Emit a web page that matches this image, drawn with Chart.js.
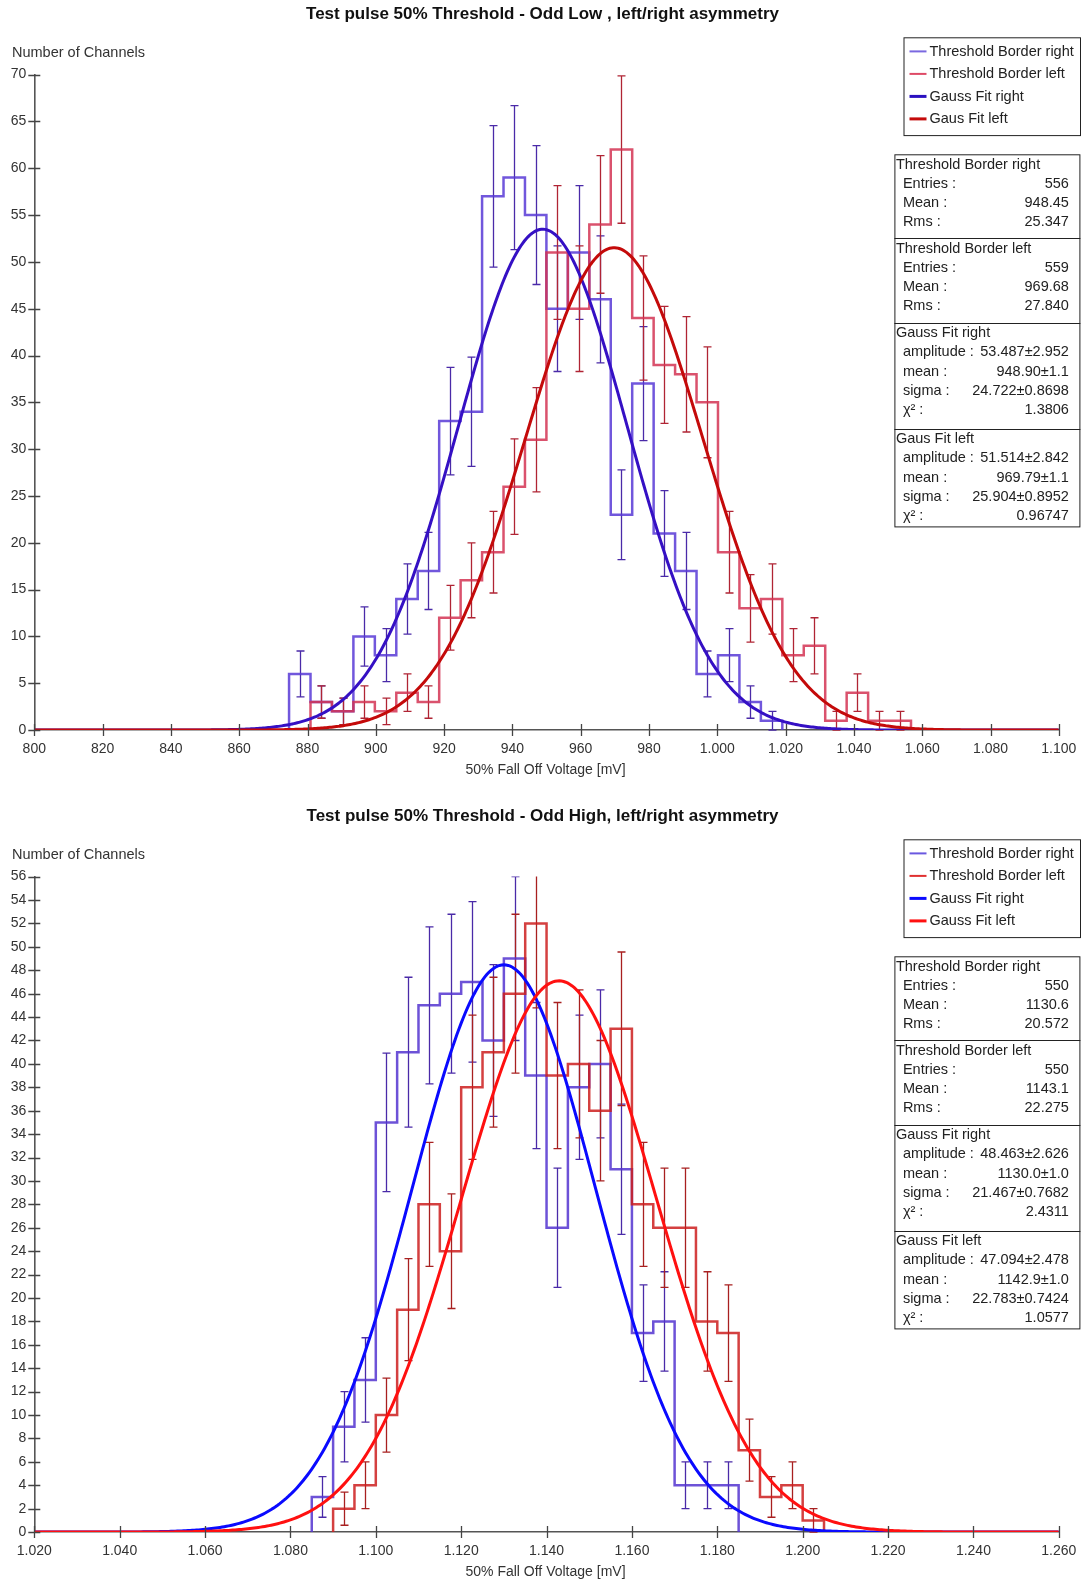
<!DOCTYPE html>
<html>
<head>
<meta charset="utf-8">
<title>Test pulse 50% Threshold - left/right asymmetry</title>
<script src="https://cdn.jsdelivr.net/npm/chart.js@4.4.1/dist/chart.umd.min.js"></script>
<style>
  html, body { margin: 0; padding: 0; background: #fff; overflow: hidden; }
  .panel { position: absolute; left: 0; width: 1083px; height: 802px; }
  #lowPanel { top: 0; }
  #highPanel { top: 802px; }
</style>
</head>
<body>
<div class="panel" id="lowPanel"><canvas id="lowChart" width="1083" height="802"></canvas></div>
<div class="panel" id="highPanel"><canvas id="highChart" width="1083" height="802"></canvas></div>
<script>
// ---- Odd Low ----
// histogram bins: first lower edge and width in mV
const lowBinStart = 874.6;
const lowBinWidth = 6.28;
const lowRightCounts = [6, 3, 2, 10, 8, 14, 17, 33, 34, 57, 59, 55, 45, 51, 46, 23, 37, 21, 17, 6, 8, 3, 1];
const lowLeftCounts = [0, 3, 2, 3, 2, 4, 3, 12, 16, 19, 26, 31, 51, 45, 54, 62, 44, 39, 38, 35, 19, 13, 14, 8, 9, 1, 4, 1, 1];
// gauss fit parameters: amplitude, mean, sigma
const lowFitRight = [53.487, 948.90, 24.722];
const lowFitLeft = [51.514, 969.79, 25.904];
const lowStatsRight = [['Entries :', '556'], ['Mean :', '948.45'], ['Rms :', '25.347']];
const lowStatsLeft = [['Entries :', '559'], ['Mean :', '969.68'], ['Rms :', '27.840']];
const lowFitRightText = [['amplitude :', '53.487±2.952'], ['mean :', '948.90±1.1'], ['sigma :', '24.722±0.8698'], ['χ² :', '1.3806']];
const lowFitLeftText = [['amplitude :', '51.514±2.842'], ['mean :', '969.79±1.1'], ['sigma :', '25.904±0.8952'], ['χ² :', '0.96747']];

// ---- Odd High ----
const highBinStart = 1085;
const highBinWidth = 5;
const highRightCounts = [3, 9, 13, 35, 41, 45, 46, 47, 42, 49, 39, 26, 38, 40, 31, 17, 18, 4, 4, 4];
const highLeftCounts = [0, 2, 4, 10, 19, 28, 24, 38, 41, 46, 52, 39, 40, 36, 43, 28, 26, 26, 18, 17, 7, 3, 4, 1];
const highFitRight = [48.463, 1130.0, 21.467];
const highFitLeft = [47.094, 1142.9, 22.783];
const highStatsRight = [['Entries :', '550'], ['Mean :', '1130.6'], ['Rms :', '20.572']];
const highStatsLeft = [['Entries :', '550'], ['Mean :', '1143.1'], ['Rms :', '22.275']];
const highFitRightText = [['amplitude :', '48.463±2.626'], ['mean :', '1130.0±1.0'], ['sigma :', '21.467±0.7682'], ['χ² :', '2.4311']];
const highFitLeftText = [['amplitude :', '47.094±2.478'], ['mean :', '1142.9±1.0'], ['sigma :', '22.783±0.7424'], ['χ² :', '1.0577']];

const FONT = "'Liberation Sans', Arial, sans-serif";
Chart.defaults.font.family = FONT;
Chart.defaults.font.size = 14;
Chart.defaults.color = '#333';
Chart.defaults.animation = false;

// axis labels use a dot as thousands separator (1.000, 1.020 ...)
function formatMv(v) {
    if (v >= 1000) return Math.floor(v / 1000) + '.' + String(Math.round(v % 1000)).padStart(3, '0');
    return String(v);
}

// outline of a histogram: each point carries the count of the bin ending there
function histPoints(start, width, counts) {
    const first = counts.findIndex(c => c > 0);
    const pts = [{ x: start + first * width, y: 0 }];
    for (let i = first; i < counts.length; i++) {
        pts.push({ x: start + i * width, y: counts[i] });
        pts.push({ x: start + (i + 1) * width, y: counts[i] });
    }
    pts.push({ x: start + counts.length * width, y: 0 });
    return pts;
}

function gaussPoints(fit, xMin, xMax) {
    const [amp, mean, sigma] = fit;
    const pts = [];
    for (let x = xMin; x <= xMax; x += 0.5) {
        const t = (x - mean) / sigma;
        pts.push({ x: x, y: amp * Math.exp(-0.5 * t * t) });
    }
    return pts;
}

function drawErrorBars(chart, start, width, counts, color) {
    const xs = chart.scales.x, ys = chart.scales.y, ctx = chart.ctx, a = chart.chartArea;
    ctx.save();
    ctx.beginPath();
    ctx.rect(a.left, a.top, a.right - a.left, a.bottom - a.top + 2);
    ctx.clip();
    ctx.strokeStyle = color;
    ctx.lineWidth = 1.3;
    counts.forEach((n, i) => {
        if (!n) return;
        const e = Math.sqrt(n);
        const px = Math.round(xs.getPixelForValue(start + (i + 0.5) * width)) + 0.5;
        const top = ys.getPixelForValue(n + e);
        const bot = ys.getPixelForValue(Math.max(n - e, 0));
        ctx.beginPath();
        ctx.moveTo(px, top); ctx.lineTo(px, bot);
        ctx.moveTo(px - 4, top); ctx.lineTo(px + 4, top);
        ctx.moveTo(px - 4, bot); ctx.lineTo(px + 4, bot);
        ctx.stroke();
    });
    ctx.restore();
}

function drawLegend(ctx, items) {
    const x = 903.5, y = 37.3, w = 176.5, h = 97.8;
    ctx.save();
    ctx.fillStyle = '#fff';
    ctx.fillRect(x, y, w, h);
    ctx.strokeStyle = '#222';
    ctx.lineWidth = 1;
    ctx.strokeRect(x + 0.5, y + 0.5, w, h);
    ctx.font = '14.5px ' + FONT;
    ctx.textBaseline = 'middle';
    ctx.textAlign = 'left';
    items.forEach((it, i) => {
        const cy = y + 14.1 + i * 22.5;
        ctx.strokeStyle = it.color;
        ctx.lineWidth = it.width;
        ctx.beginPath();
        ctx.moveTo(x + 6, cy); ctx.lineTo(x + 23, cy);
        ctx.stroke();
        ctx.fillStyle = '#222';
        ctx.fillText(it.label, x + 26, cy + 0.5);
    });
    ctx.restore();
}

function drawStats(ctx, sections) {
    const x = 894.4, right = 1080.4, top = 154.3;
    const heights = [83.7, 84.7, 105.9, 97.8];
    ctx.save();
    ctx.font = '14.5px ' + FONT;
    ctx.textBaseline = 'middle';
    let sy = top;
    const total = heights.reduce((a, b) => a + b, 0);
    ctx.fillStyle = '#fff';
    ctx.fillRect(x, top, right - x, total);
    ctx.strokeStyle = '#222';
    ctx.lineWidth = 1;
    ctx.strokeRect(x + 0.5, top + 0.5, right - x - 1, total);
    sections.forEach((sec, k) => {
        if (k > 0) {
            ctx.beginPath();
            ctx.moveTo(x, Math.round(sy) + 0.5); ctx.lineTo(right, Math.round(sy) + 0.5);
            ctx.stroke();
        }
        ctx.fillStyle = '#222';
        ctx.textAlign = 'left';
        ctx.fillText(sec.title, x + 1.5, sy + 10.5);
        sec.rows.forEach((r, i) => {
            const cy = sy + 10.5 + (i + 1) * 19.2;
            ctx.textAlign = 'left';
            ctx.fillText(r[0], x + 8.5, cy);
            ctx.textAlign = 'right';
            ctx.fillText(r[1], right - 11.5, cy);
        });
        sy += heights[k];
    });
    ctx.restore();
}

function makeChart(canvasId, cfg) {
    const xMin = cfg.xMin, xMax = cfg.xMax;
    const decor = {
        id: 'histDecor',
        beforeDatasetsDraw(chart) {
            drawErrorBars(chart, cfg.binStart, cfg.binWidth, cfg.rightCounts, cfg.colors.rightBar);
            drawErrorBars(chart, cfg.binStart, cfg.binWidth, cfg.leftCounts, cfg.colors.leftBar);
        },
        afterDraw(chart) {
            const ctx = chart.ctx, a = chart.chartArea;
            const xs = chart.scales.x, ys = chart.scales.y;
            ctx.save();
            // tick marks crossing the axes
            ctx.strokeStyle = '#444';
            ctx.lineWidth = 1.3;
            ctx.beginPath();
            ys.ticks.forEach(t => {
                const py = Math.round(ys.getPixelForValue(t.value)) + 0.5;
                ctx.moveTo(a.left - 6, py); ctx.lineTo(a.left + 6, py);
            });
            xs.ticks.forEach(t => {
                const px = Math.round(xs.getPixelForValue(t.value)) + 0.5;
                ctx.moveTo(px, a.bottom - 6); ctx.lineTo(px, a.bottom + 6);
            });
            ctx.stroke();
            // titles
            ctx.fillStyle = '#111';
            ctx.font = 'bold 17px ' + FONT;
            ctx.textAlign = 'center';
            ctx.textBaseline = 'middle';
            ctx.fillText(cfg.title, 542.5, 14.5);
            ctx.font = '14.5px ' + FONT;
            ctx.fillStyle = '#333';
            ctx.textAlign = 'left';
            ctx.fillText('Number of Channels', 12, 53);
            ctx.font = '14px ' + FONT;
            ctx.textAlign = 'center';
            ctx.fillText('50% Fall Off Voltage [mV]', 545.5, 770.5);
            ctx.restore();

            drawLegend(ctx, cfg.legend);
            drawStats(ctx, [
                { title: 'Threshold Border right', rows: cfg.statsRight },
                { title: 'Threshold Border left', rows: cfg.statsLeft },
                { title: cfg.fitNames[0], rows: cfg.fitRightText },
                { title: cfg.fitNames[1], rows: cfg.fitLeftText }
            ]);
        }
    };

    return new Chart(document.getElementById(canvasId), {
        type: 'line',
        data: {
            datasets: [
                {
                    label: 'Threshold Border right',
                    data: histPoints(cfg.binStart, cfg.binWidth, cfg.rightCounts),
                    borderColor: cfg.colors.rightHist,
                    borderWidth: 2.5,
                    pointRadius: 0,
                    order: 3
                },
                {
                    label: 'Threshold Border left',
                    data: histPoints(cfg.binStart, cfg.binWidth, cfg.leftCounts),
                    borderColor: cfg.colors.leftHist,
                    borderWidth: 2.5,
                    pointRadius: 0,
                    order: 2
                },
                {
                    label: cfg.fitNames[0],
                    data: gaussPoints(cfg.fitRight, xMin, xMax),
                    borderColor: cfg.colors.rightFit,
                    borderWidth: 3,
                    pointRadius: 0,
                    order: 1
                },
                {
                    label: cfg.fitNames[1],
                    data: gaussPoints(cfg.fitLeft, xMin, xMax),
                    borderColor: cfg.colors.leftFit,
                    borderWidth: 3,
                    pointRadius: 0,
                    order: 0
                }
            ]
        },
        options: {
            responsive: false,
            devicePixelRatio: 1,
            parsing: false,
            layout: { padding: { left: 0, right: 24.2, top: 74.6, bottom: 0 } },
            plugins: {
                legend: { display: false },
                title: { display: false },
                tooltip: { enabled: false }
            },
            scales: {
                x: {
                    type: 'linear',
                    min: xMin,
                    max: xMax,
                    grid: { display: false, drawTicks: false },
                    border: { color: '#555', width: 1.6 },
                    ticks: {
                        stepSize: 20,
                        autoSkip: false,
                        maxRotation: 0,
                        padding: 11,
                        color: '#333',
                        callback: v => formatMv(v)
                    },
                    afterFit: s => {
                        s.height = 802 - 730.1;
                        s.paddingLeft = 0;
                        s.paddingRight = 0;
                    }
                },
                y: {
                    min: 0,
                    max: cfg.yMax,
                    grid: { display: false, drawTicks: false },
                    border: { color: '#555', width: 1.6 },
                    ticks: { stepSize: cfg.yStep, padding: 8, color: '#333' },
                    afterFit: s => { s.width = 34.3; }
                }
            }
        },
        plugins: [decor]
    });
}

makeChart('lowChart', {
    title: 'Test pulse 50% Threshold - Odd Low , left/right asymmetry',
    xMin: 800, xMax: 1100, yMax: 70, yStep: 5,
    binStart: lowBinStart, binWidth: lowBinWidth,
    rightCounts: lowRightCounts, leftCounts: lowLeftCounts,
    fitRight: lowFitRight, fitLeft: lowFitLeft,
    fitNames: ['Gauss Fit right', 'Gaus Fit left'],
    statsRight: lowStatsRight, statsLeft: lowStatsLeft,
    fitRightText: lowFitRightText, fitLeftText: lowFitLeftText,
    colors: {
        rightHist: 'rgba(88, 58, 214, 0.85)',
        leftHist: 'rgba(212, 52, 84, 0.85)',
        rightFit: '#3510c4',
        leftFit: '#c40a0a',
        rightBar: '#4a2aa8',
        leftBar: '#b02434'
    },
    legend: [
        { label: 'Threshold Border right', color: '#7a68e0', width: 2 },
        { label: 'Threshold Border left', color: '#de4a66', width: 2 },
        { label: 'Gauss Fit right', color: '#2a10c0', width: 3 },
        { label: 'Gaus Fit left', color: '#c40a0a', width: 3 }
    ]
});

makeChart('highChart', {
    title: 'Test pulse 50% Threshold - Odd High, left/right asymmetry',
    xMin: 1020, xMax: 1260, yMax: 56, yStep: 2,
    binStart: highBinStart, binWidth: highBinWidth,
    rightCounts: highRightCounts, leftCounts: highLeftCounts,
    fitRight: highFitRight, fitLeft: highFitLeft,
    fitNames: ['Gauss Fit right', 'Gauss Fit left'],
    statsRight: highStatsRight, statsLeft: highStatsLeft,
    fitRightText: highFitRightText, fitLeftText: highFitLeftText,
    colors: {
        rightHist: 'rgba(84, 52, 208, 0.85)',
        leftHist: 'rgba(204, 30, 30, 0.85)',
        rightFit: '#0a0aff',
        leftFit: '#ff1010',
        rightBar: '#4a2aa8',
        leftBar: '#a82020'
    },
    legend: [
        { label: 'Threshold Border right', color: '#6a58e0', width: 2 },
        { label: 'Threshold Border left', color: '#e03030', width: 2 },
        { label: 'Gauss Fit right', color: '#0a0aff', width: 3 },
        { label: 'Gauss Fit left', color: '#ff1010', width: 3 }
    ]
});
</script>
</body>
</html>
